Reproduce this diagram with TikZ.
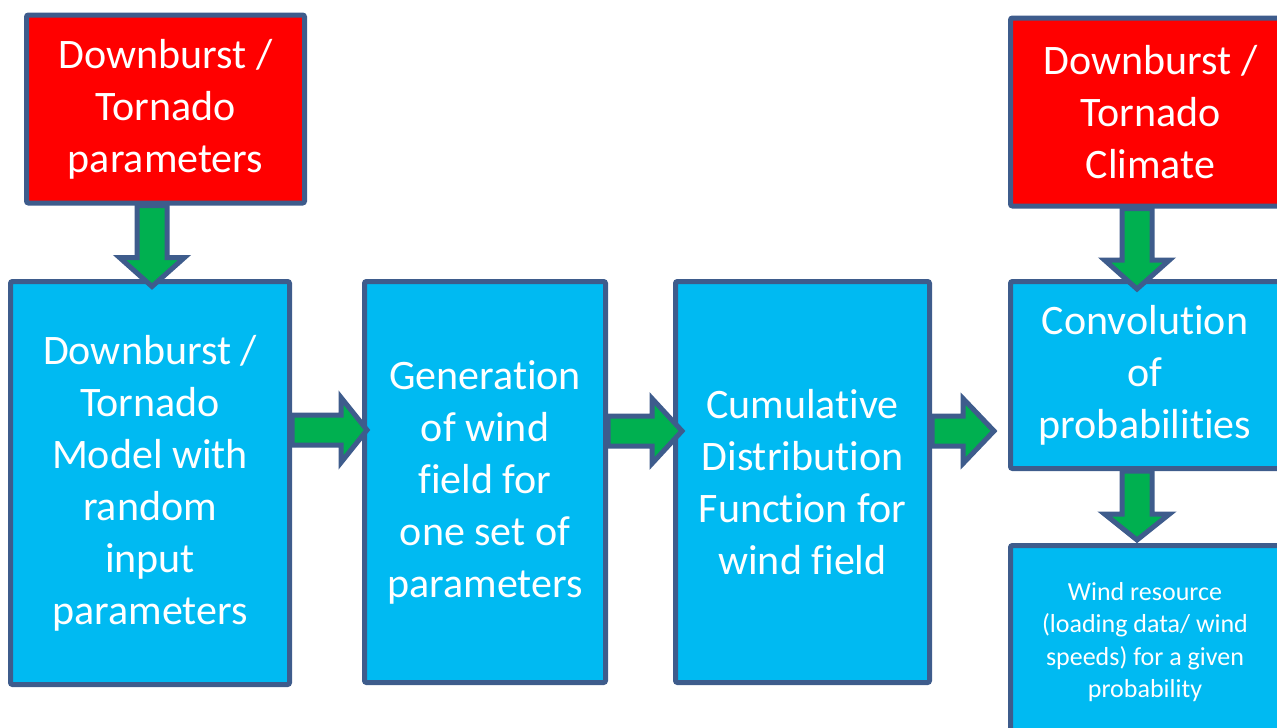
\documentclass[tikz,border=0pt]{standalone}
\usepackage{fontspec}
\setmainfont[Ligatures=NoCommon]{Carlito}
\usetikzlibrary{calc}
\definecolor{boxred}{RGB}{255,0,0}
\definecolor{boxblue}{RGB}{0,186,242}
\definecolor{arrgreen}{RGB}{0,176,80}
\definecolor{edgeblue}{RGB}{62,92,140}
\newcommand{\harrowblk}[3]{%
  \draw[blockarrow] ($(#1)+(0,-15)$) -- ($(#2)+(-#3,-15)$) -- ($(#2)+(-#3,-32.5)$) -- (#2)
    -- ($(#2)+(-#3,32.5)$) -- ($(#2)+(-#3,15)$) -- ($(#1)+(0,15)$) -- cycle;}
\newcommand{\varrowblk}[3]{%
  \draw[blockarrow] ($(#1)+(-15,0)$) -- ($(#2)+(-15,-#3)$) -- ($(#2)+(-32.5,-#3)$) -- (#2)
    -- ($(#2)+(32.5,-#3)$) -- ($(#2)+(15,-#3)$) -- ($(#1)+(15,0)$) -- cycle;}
\begin{document}
\begin{tikzpicture}[x=1pt,y=-1pt,
  box/.style={draw=edgeblue, line width=5pt, rounded corners=2pt, text=white,
    align=center, inner sep=0pt, font=\fontsize{42}{52}\selectfont},
  redbox/.style={box, fill=boxred},
  bluebox/.style={box, fill=boxblue},
  blockarrow/.style={draw=edgeblue, fill=arrgreen, line width=5pt, line join=miter, miter limit=10}]
\useasboundingbox (0,0) rectangle (1277,728);
\clip (0,0) rectangle (1277,728);
% boxes
\node[redbox, minimum width=278pt, minimum height=188pt] (r1) at (165.5,109)
  {Downburst /\\Tornado\\parameters};
\node[redbox, minimum width=280pt, minimum height=188pt] (r2) at (1150.5,112)
  {Downburst /\\Tornado\\Climate};
\node[bluebox, minimum width=279pt, minimum height=403pt] (b1) at (150,483)
  {Downburst /\\Tornado\\Model with\\random\\input\\parameters};
\node[bluebox, minimum width=241pt, minimum height=401pt] (b2) at (485,482)
  {Generation\\of wind\\field for\\one set of\\parameters};
\node[bluebox, minimum width=254pt, minimum height=401pt] (b3) at (802.5,482)
  {Cumulative\\Distribution\\Function for\\wind field};
\node[bluebox, minimum width=269pt, minimum height=187pt] (b4) at (1145,375)
  {Convolution\\of\\probabilities};
\node[bluebox, minimum width=269pt, minimum height=193pt,
  font=\fontsize{26}{32.5}\selectfont] (b5) at (1145,642)
  {Wind resource\\(loading data/ wind\\speeds) for a given\\probability};
% arrow end points
\coordinate (sA) at ($(r1.south -| b1.north)+(2,0)$);
\coordinate (tA) at ($(b1.north)+(2,7.5)$);
\coordinate (sB) at ($(r2.south -| b4.north)+(-8,0)$);
\coordinate (tB) at ($(b4.north)+(-8,10)$);
\coordinate (sC) at ($(b4.south)+(-8,0)$);
\coordinate (tC) at ($(b5.north)+(-8,-3)$);
\coordinate (s1) at ($(b1.east)+(0,-53)$);
\coordinate (t1) at ($(b2.west |- s1)+(5,0)$);
\coordinate (s2) at ($(b2.east)+(0,-51)$);
\coordinate (t2) at ($(b3.west |- s2)+(9,0)$);
\coordinate (s3) at ($(b3.east)+(0,-51)$);
\coordinate (t3) at ($(b4.west |- s3)+(-14,0)$);
% arrows
\varrowblk{sA}{tA}{29}
\varrowblk{sB}{tB}{29}
\varrowblk{sC}{tC}{26}
\harrowblk{s1}{t1}{26}
\harrowblk{s2}{t2}{30}
\harrowblk{s3}{t3}{31}
\end{tikzpicture}
\end{document}
